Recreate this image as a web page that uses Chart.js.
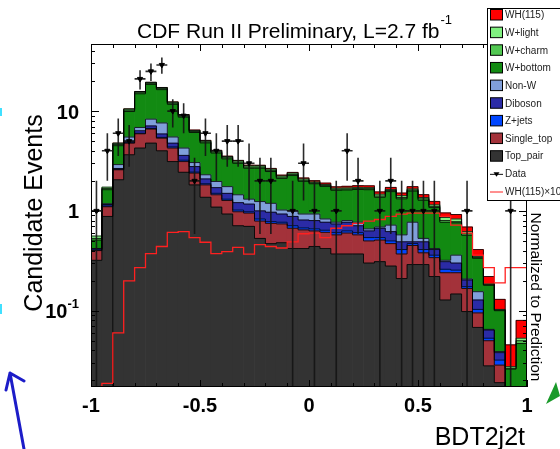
<!DOCTYPE html>
<html>
<head>
<meta charset="utf-8">
<title>BDT2j2t</title>
<script src="https://cdn.jsdelivr.net/npm/chart.js@4.4.1/dist/chart.umd.min.js"></script>
<style>
  html, body { margin: 0; padding: 0; background: #fff; }
  canvas { display: block; }
</style>
</head>
<body>
<canvas id="bdtChart" width="560" height="449"></canvas>
<script>
/* DATA */
const bins = [-0.975,-0.925,-0.875,-0.825,-0.775,-0.725,-0.675,-0.625,-0.575,-0.525,
              -0.475,-0.425,-0.375,-0.325,-0.275,-0.225,-0.175,-0.125,-0.075,-0.025,
               0.025, 0.075, 0.125, 0.175, 0.225, 0.275, 0.325, 0.375, 0.425, 0.475,
               0.525, 0.575, 0.625, 0.675, 0.725, 0.775, 0.825, 0.875, 0.925, 0.975];
const binWidth = 0.05;

const topPair   = [0.32,0.88,2.05,3.65,4.26,4.77,4.0,3.12,2.44,1.82, 1.37,1.09,0.93,0.71,0.70,0.53,0.47,0.48,0.42,0.42,
                   0.44,0.42,0.37,0.37,0.37,0.30,0.31,0.28,0.21,0.29, 0.29,0.22,0.128,0.147,0.098,0.068,0.028,0.019,0.005,0.006];
const singleTop = [0.08,0.22,0.53,1.12,1.66,1.83,1.35,1.14,0.68,0.57, 0.45,0.36,0.34,0.27,0.25,0.26,0.28,0.26,0.25,0.225,
                   0.19,0.19,0.205,0.23,0.205,0.20,0.20,0.19,0.16,0.16, 0.09,0.12,0.112,0.093,0.069,0.027,0.022,0.0095,0.003,0.003];
const zJets     = [0.005,0.02,0.03,0.06,0.08,0.1,0.1,0.12,0.1,0.06, 0.05,0.05,0.04,0.04,0.03,0.04,0.03,0.03,0.04,0.03,
                   0.03,0.03,0.03,0.03,0.03,0.04,0.03,0.03,0.04,0.02, 0.03,0.02,0.02,0.015,0.007,0.008,0.003,0.0035,0.001,0.001];
const diboson   = [0.01,0.04,0.05,0.17,0.35,0.4,0.45,0.39,0.38,0.33, 0.22,0.21,0.19,0.19,0.19,0.17,0.19,0.16,0.17,0.135,
                   0.14,0.13,0.135,0.14,0.105,0.09,0.13,0.12,0.08,0.02, 0.08,0.05,0.05,0.045,0.029,0.025,0.011,0.006,0.002,0.002];
const nonW      = [0.005,0.02,0.25,0.49,0.5,1.2,1.7,0.73,0.66,0.27, 0.21,0.26,0.25,0.24,0.14,0.24,0.22,0.09,0.12,0.12,
                   0.13,0.06,0.03,0.03,0.06,0.03,0.02,0.10,0.085,0.28, 0.04,0.01,0.01,0.06,0.005,0.027,0.001,0.001,0.001,0.001];
const wBottom   = [0.09,0.45,1.59,4.41,8.05,10.2,8.8,6.2,4.44,3.05, 2.5,1.83,1.57,1.55,1.37,1.44,1.29,1.10,1.26,1.05,
                   0.94,0.93,0.84,0.82,0.87,0.97,0.68,0.84,0.745,0.81, 0.75,0.66,0.45,0.40,0.362,0.18,0.115,0.061,0.014,0.034];
const wCharm    = [0.02,0.05,0.12,0.3,0.4,0.45,0.4,0.3,0.24,0.15, 0.12,0.1,0.09,0.08,0.07,0.07,0.07,0.06,0.06,0.05,
                   0.04,0.04,0.04,0.04,0.04,0.04,0.04,0.04,0.04,0.04, 0.04,0.03,0.03,0.02,0.02,0.007,0.002,0.0015,0.0005,0.003];
const wLight    = [0.03,0.05,0.15,0.3,0.4,0.45,0.4,0.3,0.24,0.15, 0.12,0.1,0.09,0.09,0.08,0.08,0.07,0.06,0.07,0.06,
                   0.04,0.04,0.04,0.04,0.04,0.04,0.06,0.04,0.06,0.04, 0.04,0.04,0.06,0.05,0.03,0.008,0.003,0.0015,0.001,0.003];
const wh115     = [0,0,0.002,0.006,0.02,0.027,0.037,0.044,0.06,0.06, 0.054,0.048,0.037,0.039,0.043,0.037,0.046,0.044,0.042,0.049,
                   0.06,0.06,0.055,0.065,0.07,0.075,0.08,0.08,0.09,0.09, 0.095,0.095,0.095,0.09,0.07,0.06,0.035,0.027,0.018,0.027];
const wh115x10  = [0.0172,0.0172,0.0187,0.060,0.199,0.27,0.373,0.44,0.61,0.62, 0.54,0.485,0.373,0.39,0.43,0.368,0.46,0.44,0.425,0.49,
                   0.59,0.60,0.54,0.67,0.71,0.75,0.79,0.82,0.88,0.93, 0.95,0.95,0.95,0.88,0.72,0.60,0.36,0.27,0.19,0.27];
const dataCounts = [1,4,6,5,21,25,29,10,9,2, 6,4,5,5,3,2,2,0,1,3,
                    1,0,1,4,2,0,1,2,1,1, 1,1,0,0,1,0,0,0,1,0];

const xTickValues = [-1, -0.5, 0, 0.5, 1];
const xTickLabels = ["-1", "-0.5", "0", "0.5", "1"];
const yTickValues = [10, 1, 0.1];
const yTickLabels = [["10", ""], ["1", ""], ["10", "-1"]];

/* STYLE */
const FONT = "'Liberation Sans', Arial, Helvetica, sans-serif";
const stackOrder = [
  { label: "Top_pair",   data: topPair,   color: "#333333" },
  { label: "Single_top", data: singleTop, color: "#a3323a" },
  { label: "Z+jets",     data: zJets,     color: "#0046ff" },
  { label: "Diboson",    data: diboson,   color: "#2b2ba6" },
  { label: "Non-W",      data: nonW,      color: "#809fda" },
  { label: "W+bottom",   data: wBottom,   color: "#128a12" },
  { label: "W+charm",    data: wCharm,    color: "#52c852" },
  { label: "W+light",    data: wLight,    color: "#80f080" },
  { label: "WH(115)",    data: wh115,     color: "#ff0000" }
];

const barSets = stackOrder.map(s => ({
  type: "bar",
  label: s.label,
  data: s.data.map((v, i) => ({ x: bins[i], y: v })),
  backgroundColor: s.color,
  borderWidth: 0,
  barPercentage: 1,
  categoryPercentage: 1,
  stack: "mc"
}));

// step line for WH x10, one point per bin low edge plus the closing edge
const whLine = wh115x10.map((v, i) => ({ x: bins[i] - binWidth / 2, y: v }));
whLine.push({ x: bins[bins.length - 1] + binWidth / 2, y: wh115x10[wh115x10.length - 1] });

const dataPoints = dataCounts.map((n, i) => ({ x: bins[i], y: n > 0 ? n : null }));

/* AXES, TEXT, LEGEND (ROOT look) */
function clipToArea(ctx, a) {
  ctx.beginPath();
  ctx.rect(a.left, a.top, a.right - a.left, a.bottom - a.top);
  ctx.clip();
}

// ROOT-style step outline on top of each stacked component
function drawOutlines(chart) {
  const { ctx, chartArea: a } = chart;
  ctx.save();
  clipToArea(ctx, a);
  ctx.strokeStyle = "rgba(0,0,0,0.8)";
  ctx.lineWidth = 1;
  chart.getSortedVisibleDatasetMetas().forEach(meta => {
    if (meta.type !== "bar") return;
    ctx.beginPath();
    meta.data.forEach((el, i) => {
      const { x, y, width } = el.getProps(["x", "y", "width"], true);
      const l = x - width / 2, r = x + width / 2;
      if (i === 0) ctx.moveTo(l, y); else ctx.lineTo(l, y);
      ctx.lineTo(r, y);
    });
    ctx.stroke();
  });
  ctx.restore();
}

function drawErrors(chart) {
  const { ctx, chartArea: a, scales: { x, y } } = chart;
  ctx.save();
  clipToArea(ctx, a);
  ctx.strokeStyle = "rgba(20,20,20,0.9)";
  ctx.lineWidth = 1.6;
  dataCounts.forEach((n, i) => {
    if (!n) return;
    const px = x.getPixelForValue(bins[i]);
    const py = y.getPixelForValue(n);
    const err = Math.sqrt(n);
    const hi = y.getPixelForValue(n + err);
    const lo = n - err > 0 ? y.getPixelForValue(n - err) : a.bottom;
    const half = x.getPixelForValue(bins[i] + binWidth / 2) - px;
    ctx.beginPath();
    ctx.moveTo(px, hi); ctx.lineTo(px, lo);
    ctx.moveTo(px - half, py); ctx.lineTo(px + half, py);
    ctx.stroke();
  });
  ctx.restore();
}

const rootAxes = {
  id: "rootAxes",
  beforeDatasetDraw(chart, args) {
    const label = chart.data.datasets[args.index].label;
    if (label === "WH(115)x10") drawOutlines(chart);
    if (label === "Data") drawErrors(chart);
  },
  afterDraw(chart) {
    const { ctx, chartArea: a, scales: { x, y } } = chart;
    ctx.save();

    // frame + ticks
    ctx.strokeStyle = "#000";
    ctx.lineWidth = 1;
    ctx.strokeRect(a.left + 0.5, a.top + 0.5, a.right - a.left - 1, a.bottom - a.top - 1);
    ctx.beginPath();
    for (let k = 0; k <= 20; k++) {
      const px = Math.round(x.getPixelForValue(-1 + k * 0.1)) + 0.5;
      const len = k % 5 === 0 ? 7 : 4;
      ctx.moveTo(px, a.bottom); ctx.lineTo(px, a.bottom - len);
      ctx.moveTo(px, a.top); ctx.lineTo(px, a.top + len);
    }
    for (let e = -2; e <= 1; e++) {
      for (let m = 1; m <= 9; m++) {
        const v = m * Math.pow(10, e);
        if (v < y.min || v > y.max) continue;
        const py = Math.round(y.getPixelForValue(v)) + 0.5;
        const len = m === 1 ? 8 : 4;
        ctx.moveTo(a.left, py); ctx.lineTo(a.left + len, py);
        ctx.moveTo(a.right, py); ctx.lineTo(a.right - len, py);
      }
    }
    ctx.stroke();

    // tick labels
    ctx.fillStyle = "#000";
    ctx.font = "bold 20px " + FONT;
    ctx.textAlign = "center";
    ctx.textBaseline = "middle";
    xTickValues.forEach((v, i) => ctx.fillText(xTickLabels[i], x.getPixelForValue(v), 406));

    yTickValues.forEach((v, i) => {
      const [base, exp] = yTickLabels[i];
      const py = y.getPixelForValue(v) + 2;
      let right = 79;
      if (exp) {
        ctx.font = "bold 13px " + FONT;
        ctx.textAlign = "right";
        ctx.fillText(exp, right, py - 8);
        right -= ctx.measureText(exp).width;
      }
      ctx.font = "bold 20px " + FONT;
      ctx.textAlign = "right";
      ctx.fillText(base, right, py);
    });

    // titles
    ctx.textBaseline = "alphabetic";
    ctx.textAlign = "left";
    ctx.font = "21px " + FONT;
    const title = "CDF Run II Preliminary, L=2.7 fb";
    ctx.fillText(title, 137, 37.5);
    const tw = ctx.measureText(title).width;
    ctx.font = "13px " + FONT;
    ctx.fillText("-1", 137 + tw + 1, 24);

    ctx.font = "25px " + FONT;
    ctx.textAlign = "right";
    ctx.fillText("BDT2j2t", 525, 444.5);

    ctx.save();
    ctx.translate(41.5, 213);
    ctx.rotate(-Math.PI / 2);
    ctx.textAlign = "center";
    ctx.fillText("Candidate Events", 0, 0);
    ctx.restore();

    ctx.save();
    ctx.translate(530.5, 297);
    ctx.rotate(Math.PI / 2);
    ctx.textAlign = "center";
    ctx.font = "15.5px " + FONT;
    ctx.fillText("Normalized to Prediction", 0, 0);
    ctx.restore();

    // legend box
    const lx = 487, ly = 8;
    ctx.fillStyle = "#fff";
    ctx.fillRect(lx, ly, 80, 192);
    ctx.strokeStyle = "#000";
    ctx.strokeRect(lx + 0.5, ly + 0.5, 80, 192);
    const entries = stackOrder.slice().reverse();
    const rows = entries.map(s => s.label).concat(["Data", "WH(115)\u00d710"]);
    ctx.font = "10px " + FONT;
    ctx.textAlign = "left";
    ctx.textBaseline = "middle";
    rows.forEach((label, i) => {
      const cy = 15 + i * 17.65;
      if (i < entries.length) {
        ctx.fillStyle = entries[i].color;
        ctx.fillRect(490.5, cy - 5.5, 12, 10.5);
        ctx.strokeStyle = "#000";
        ctx.strokeRect(490.5, cy - 5.5, 12, 10.5);
      } else if (label === "Data") {
        ctx.strokeStyle = "#111";
        ctx.beginPath(); ctx.moveTo(490, cy + 0.5); ctx.lineTo(503, cy + 0.5); ctx.stroke();
        ctx.fillStyle = "#000";
        ctx.beginPath(); ctx.moveTo(493.5, cy - 1.5); ctx.lineTo(499.5, cy - 1.5); ctx.lineTo(496.5, cy + 3); ctx.fill();
      } else {
        ctx.strokeStyle = "#ff2020";
        ctx.beginPath(); ctx.moveTo(490, cy + 0.5); ctx.lineTo(503, cy + 0.5); ctx.stroke();
      }
      ctx.fillStyle = "#222";
      ctx.fillText(label, 505, cy + 0.5);
    });

    // stray screen marks from the original capture
    ctx.strokeStyle = "#1c1cc8";
    ctx.lineWidth = 3;
    ctx.lineCap = "round";
    ctx.beginPath();
    ctx.moveTo(24, 449); ctx.lineTo(10, 373);
    ctx.moveTo(10, 373); ctx.lineTo(6, 390);
    ctx.moveTo(10, 373); ctx.lineTo(24, 381);
    ctx.stroke();
    ctx.fillStyle = "#1a9a2a";
    ctx.beginPath(); ctx.moveTo(556, 382); ctx.lineTo(546, 404); ctx.lineTo(560, 396); ctx.closePath(); ctx.fill();
    ctx.fillStyle = "#40e0ff";
    ctx.fillRect(0, 108, 2, 8);
    ctx.fillRect(0, 304, 2, 10);

    ctx.restore();
  }
};

new Chart(document.getElementById("bdtChart"), {
  type: "bar",
  data: {
    datasets: [
      {
        type: "scatter",
        label: "Data",
        data: dataPoints,
        pointStyle: "triangle",
        rotation: 180,
        radius: 3,
        backgroundColor: "#000",
        borderColor: "#000",
        borderWidth: 1,
        stack: "obs",
        order: -2
      },
      {
        type: "line",
        label: "WH(115)x10",
        data: whLine,
        borderColor: "#ff2020",
        borderWidth: 1.3,
        stepped: "after",
        pointRadius: 0,
        fill: false,
        stack: "sig",
        order: -1
      }
    ].concat(barSets)
  },
  options: {
    responsive: false,
    animation: false,
    events: [],
    layout: { padding: { left: 91, right: 33, top: 44, bottom: 62 } },
    plugins: { legend: { display: false }, tooltip: { enabled: false }, title: { display: false } },
    scales: {
      x: { type: "linear", min: -1, max: 1, offset: false, display: false, ticks: { stepSize: 0.5 } },
      y: { type: "logarithmic", min: 0.0172, max: 47, stacked: true, display: false }
    }
  },
  plugins: [rootAxes]
});
</script>
</body>
</html>
